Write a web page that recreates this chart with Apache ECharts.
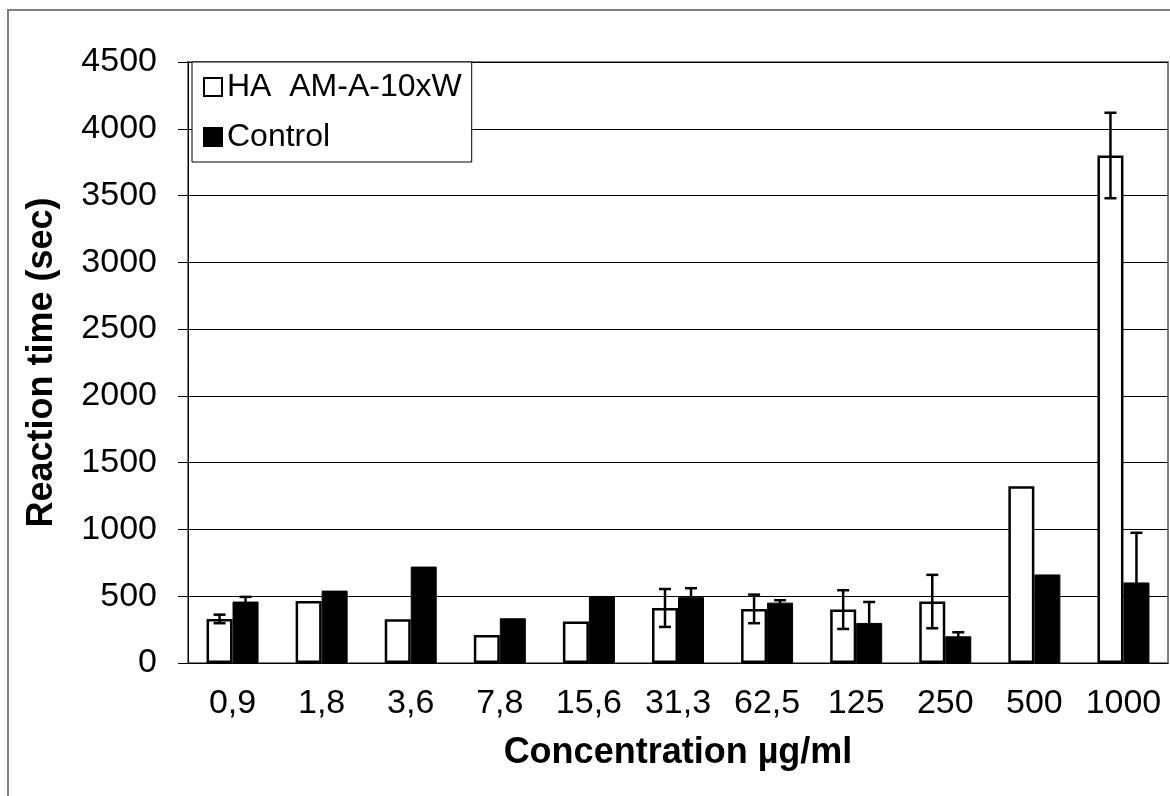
<!DOCTYPE html>
<html style="height: 100%">
<head>
<meta charset="utf-8">
</head>
<body style="height: 100%; margin: 0">
	<div id="container" style="width: 1170px; height: 796px"></div>
	<script type="text/javascript" src="https://cdn.jsdelivr.net/npm/echarts@6/dist/echarts.min.js"></script>
	<script type="text/javascript">
		// concentrations (µg/ml)
		var categories = ['0,9', '1,8', '3,6', '7,8', '15,6', '31,3', '62,5', '125', '250', '500', '1000'];
		// HA AM-A-10xW reaction time and error
		var haValues = [330, 465, 328, 210, 310, 412, 405, 400, 460, 1323, 3800];
		var haErrors = [32, 0, 0, 0, 0, 142, 107, 145, 200, 0, 320];
		// control reaction time and error
		var ctrlValues = [460, 542, 722, 335, 502, 493, 452, 300, 200, 663, 603];
		var ctrlErrors = [35, 0, 0, 0, 0, 67, 18, 157, 30, 0, 372];
		var yTicks = [0, 500, 1000, 1500, 2000, 2500, 3000, 3500, 4000, 4500];

		var font = '"Liberation Sans", Arial, sans-serif';
		var barW = 26;

		function errData(vals, errs) {
			var d = [];
			for (var i = 0; i < vals.length; i++) {
				d.push([i, vals[i], errs[i]]);
			}
			return d;
		}

		function errRenderer(offset) {
			return function (params, api) {
				var e = api.value(2);
				if (!e) return null;
				var v = api.value(1);
				var top = api.coord([api.value(0), v + e]);
				var bot = api.coord([api.value(0), v - e]);
				var x = top[0] + offset;
				var st = { stroke: '#000', lineWidth: 2.5 };
				return {
					type: 'group',
					children: [
						{ type: 'line', shape: { x1: x, y1: top[1], x2: x, y2: bot[1] }, style: st },
						{ type: 'line', shape: { x1: x - 6, y1: top[1], x2: x + 6, y2: top[1] }, style: st },
						{ type: 'line', shape: { x1: x - 6, y1: bot[1], x2: x + 6, y2: bot[1] }, style: st }
					]
				};
			};
		}

		var dom = document.getElementById("container");
		var myChart = echarts.init(dom);
		var option = {
			backgroundColor: '#fff',
			animation: false,
			textStyle: { fontFamily: font },
			graphic: [{
				type: 'rect',
				shape: { x: 8, y: 10, width: 1200, height: 820 },
				style: { fill: null, stroke: '#808080', lineWidth: 2 },
				silent: true
			}],
			grid: {
				left: 188, top: 62, right: 2, bottom: 133,
				show: true, borderColor: '#808080', borderWidth: 2
			},
			legend: {
				orient: 'vertical',
				left: 192, top: 62,
				padding: [9, 10, 9, 11],
				itemWidth: 18, itemHeight: 18, itemGap: 18,
				borderColor: '#000', borderWidth: 1,
				backgroundColor: '#fff',
				icon: 'rect',
				textStyle: { fontFamily: font, fontSize: 32, color: '#000' },
				data: ['HA  AM-A-10xW', 'Control']
			},
			xAxis: {
				type: 'category',
				data: categories,
				name: 'Concentration µg/ml',
				nameLocation: 'middle',
				nameGap: 72,
				nameTextStyle: { fontFamily: font, fontSize: 36, fontWeight: 'bold', color: '#000' },
				axisLine: { lineStyle: { color: '#000', width: 1 } },
				axisTick: { length: 10, lineStyle: { color: '#000' } },
				axisLabel: { interval: 0, margin: 24, fontFamily: font, fontSize: 34, color: '#000' }
			},
			yAxis: {
				type: 'value',
				min: 0, max: 4500, interval: 500,
				name: 'Reaction time (sec)',
				nameLocation: 'middle',
				nameGap: 128,
				nameTextStyle: { fontFamily: font, fontSize: 36, fontWeight: 'bold', color: '#000' },
				axisLine: { show: true, lineStyle: { color: '#000', width: 1 } },
				axisTick: { show: true, length: 10, lineStyle: { color: '#000' } },
				axisLabel: {
					margin: 31, fontFamily: font, fontSize: 34, color: '#000',
					formatter: function (v) { return yTicks.indexOf(v) >= 0 ? String(v) : ''; }
				},
				splitLine: { lineStyle: { color: '#000', width: 1 } }
			},
			series: [{
				name: 'HA  AM-A-10xW',
				type: 'bar',
				barWidth: barW,
				barGap: '0%',
				itemStyle: { color: '#fff', borderColor: '#000', borderWidth: 2.5 },
				data: haValues,
				z: 2
			}, {
				name: 'Control',
				type: 'bar',
				barWidth: barW,
				barGap: '0%',
				itemStyle: { color: '#000', borderColor: '#000', borderWidth: 1 },
				data: ctrlValues,
				z: 2
			}, {
				type: 'custom',
				renderItem: errRenderer(-barW / 2),
				data: errData(haValues, haErrors),
				z: 5
			}, {
				type: 'custom',
				renderItem: errRenderer(barW / 2),
				data: errData(ctrlValues, ctrlErrors),
				z: 5
			}]
		};
		if (option && typeof option === "object") {
			myChart.setOption(option, true);
		}
	</script>
</body>
</html>
